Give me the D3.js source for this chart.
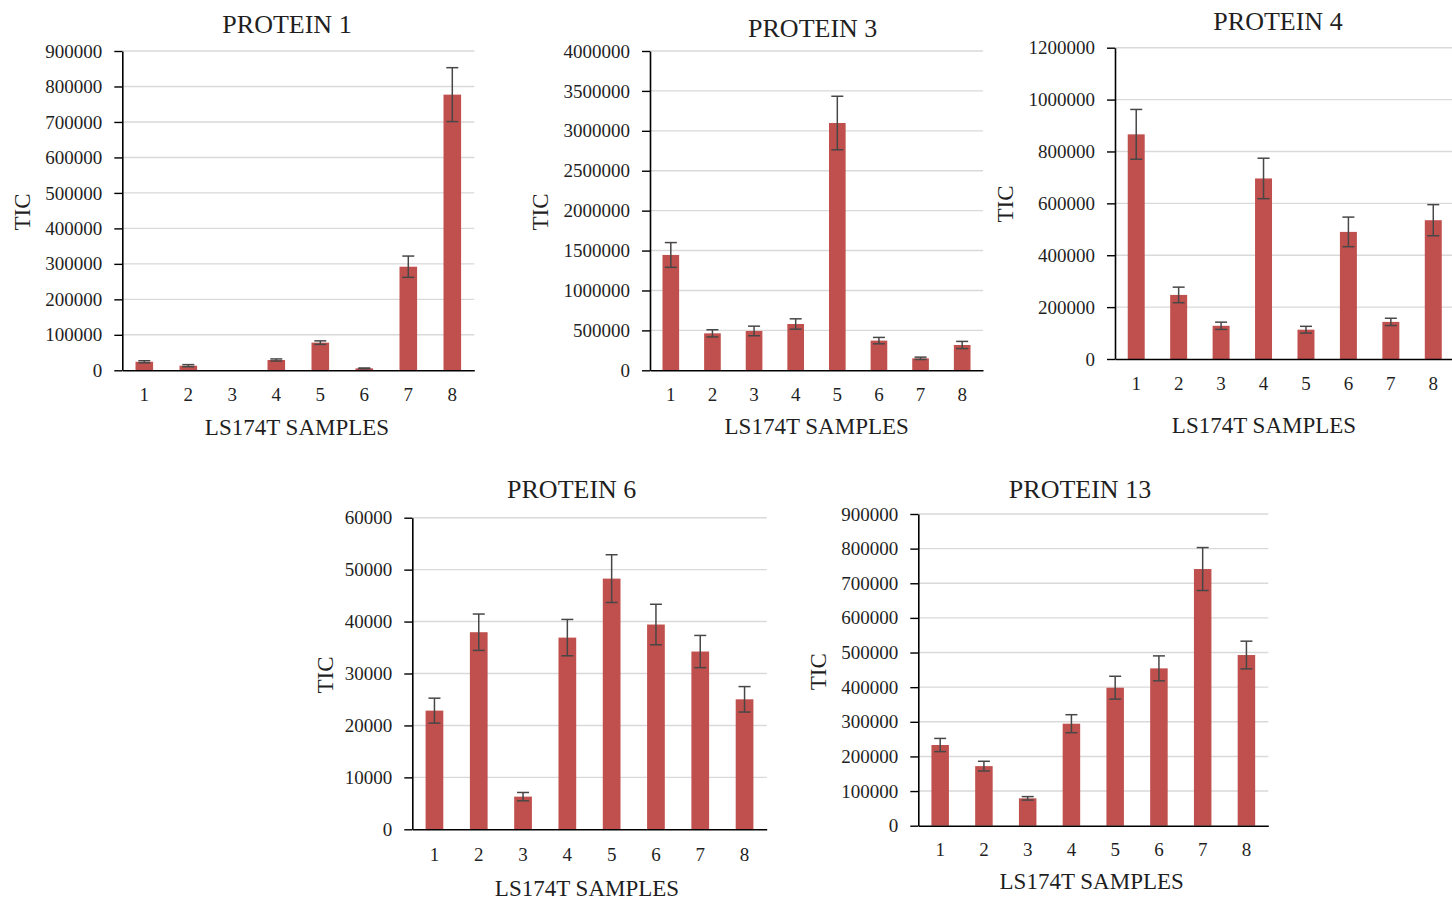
<!DOCTYPE html>
<html>
<head>
<meta charset="utf-8">
<script src="https://cdn.jsdelivr.net/npm/d3@7"></script>
<style>
  html, body { margin: 0; padding: 0; background: #ffffff; }
  svg { display: block; }
  text { font-family: "Liberation Serif", "Times New Roman", serif; fill: #1f1f1f; }
</style>
</head>
<body>
<svg id="chart" width="1452" height="900"></svg>
<script>
// Sample labels shared by every panel
const samples = ["1", "2", "3", "4", "5", "6", "7", "8"];

// Mean TIC and error per sample, one pair of arrays per protein
const protein1Mean = [24000, 13000, 0, 29000, 78000, 5500, 292000, 777000];
const protein1Err  = [3000, 3000, 0, 3000, 5000, 1000, 30000, 76000];
const protein1Ticks = [0, 100000, 200000, 300000, 400000, 500000, 600000, 700000, 800000, 900000];

const protein3Mean = [1445000, 463000, 493000, 580000, 3098000, 372000, 150000, 317000];
const protein3Err  = [155000, 45000, 60000, 65000, 335000, 40000, 15000, 45000];
const protein3Ticks = [0, 500000, 1000000, 1500000, 2000000, 2500000, 3000000, 3500000, 4000000];

const protein4Mean = [866000, 247000, 128000, 696000, 113000, 490000, 143000, 535000];
const protein4Err  = [96000, 30000, 14000, 78000, 13000, 57000, 14000, 60000];
const protein4Ticks = [0, 200000, 400000, 600000, 800000, 1000000, 1200000];

const protein6Mean = [22850, 37950, 6290, 36910, 48270, 39430, 34230, 25030];
const protein6Err  = [2400, 3500, 800, 3500, 4600, 3900, 3100, 2450];
const protein6Ticks = [0, 10000, 20000, 30000, 40000, 50000, 60000];

const protein13Mean = [233000, 172000, 79000, 294500, 398500, 454300, 741100, 492800];
const protein13Err  = [19000, 14000, 5000, 26000, 33000, 36000, 62000, 40000];
const protein13Ticks = [0, 100000, 200000, 300000, 400000, 500000, 600000, 700000, 800000, 900000];

const panels = [
  { title: "PROTEIN 1",  mean: protein1Mean,  err: protein1Err,  ticks: protein1Ticks,
    x0: 122.3, x1: 474.3, yTop: 51, yBot: 370.3, titleX: 287, titleY: 24, labelY: 395, axisTitleX: 297, axisTitleY: 427, ticX: 22, ticY: 212 },
  { title: "PROTEIN 3",  mean: protein3Mean,  err: protein3Err,  ticks: protein3Ticks,
    x0: 650, x1: 983, yTop: 51, yBot: 370.3, titleX: 812.7, titleY: 28, labelY: 395, axisTitleX: 816.7, axisTitleY: 426, ticX: 540, ticY: 212 },
  { title: "PROTEIN 4",  mean: protein4Mean,  err: protein4Err,  ticks: protein4Ticks,
    x0: 1115, x1: 1454.5, yTop: 47.7, yBot: 359, titleX: 1278, titleY: 21, labelY: 383, axisTitleX: 1264, axisTitleY: 425, ticX: 1005.7, ticY: 204 },
  { title: "PROTEIN 6",  mean: protein6Mean,  err: protein6Err,  ticks: protein6Ticks,
    x0: 412.3, x1: 766.7, yTop: 517.7, yBot: 829.3, titleX: 571.7, titleY: 489, labelY: 855, axisTitleX: 587, axisTitleY: 888, ticX: 325, ticY: 675 },
  { title: "PROTEIN 13", mean: protein13Mean, err: protein13Err, ticks: protein13Ticks,
    x0: 918.3, x1: 1268.3, yTop: 514, yBot: 825.7, titleX: 1080, titleY: 489, labelY: 850, axisTitleX: 1091.7, axisTitleY: 881.7, ticX: 818, ticY: 671.7 }
];

const svg = d3.select("#chart");
const barColor = "#c0504d";
const errColor = "#474747";
const gridColor = "#d9d9d9";
const textColor = "#1f1f1f";

panels.forEach(p => {
  const g = svg.append("g");
  const yMax = p.ticks[p.ticks.length - 1];
  const rows = samples.map((s, i) => ({ s, v: p.mean[i], e: p.err[i] }));

  const x = d3.scaleBand().domain(samples).range([p.x0, p.x1]).paddingInner(0.6).paddingOuter(0.3);
  const y = d3.scaleLinear().domain([0, yMax]).range([p.yBot, p.yTop]);

  // horizontal gridlines
  g.append("g").selectAll("line")
    .data(p.ticks.filter(t => t > 0))
    .join("line")
    .attr("x1", p.x0).attr("x2", p.x1)
    .attr("y1", d => y(d)).attr("y2", d => y(d))
    .attr("stroke", gridColor).attr("stroke-width", 1.4);

  // bars
  g.append("g").selectAll("rect")
    .data(rows.filter(d => d.v > 0))
    .join("rect")
    .attr("x", d => x(d.s))
    .attr("width", x.bandwidth())
    .attr("y", d => y(d.v))
    .attr("height", d => y(0) - y(d.v))
    .attr("fill", barColor);

  // error bars with caps
  const eb = g.append("g").selectAll("g")
    .data(rows.filter(d => d.e > 0))
    .join("g")
    .attr("stroke", errColor).attr("stroke-width", 1.5);
  const cx = d => x(d.s) + x.bandwidth() / 2;
  const hi = d => y(d.v + d.e);
  const lo = d => y(Math.max(0, d.v - d.e));
  eb.append("line")
    .attr("x1", cx).attr("x2", cx)
    .attr("y1", hi).attr("y2", lo);
  eb.append("line")
    .attr("x1", d => cx(d) - 6).attr("x2", d => cx(d) + 6)
    .attr("y1", hi).attr("y2", hi);
  eb.append("line")
    .attr("x1", d => cx(d) - 6).attr("x2", d => cx(d) + 6)
    .attr("y1", lo).attr("y2", lo);

  // y axis with outward tick marks
  const yAxis = d3.axisLeft(y).tickValues(p.ticks).tickSize(8).tickSizeOuter(0).tickPadding(12)
    .tickFormat(d3.format("d"));
  const ya = g.append("g").attr("transform", `translate(${p.x0},0)`).call(yAxis);
  ya.select(".domain").attr("stroke", "#000").attr("stroke-width", 1.6);
  ya.selectAll(".tick line").attr("stroke", "#000").attr("stroke-width", 1.4);
  ya.selectAll(".tick text").attr("font-size", 19).attr("font-family", "Liberation Serif").attr("fill", textColor);

  // x axis: baseline and sample labels
  const xAxis = d3.axisBottom(x).tickSize(0).tickPadding(0);
  const xa = g.append("g").attr("transform", `translate(0,${p.yBot})`).call(xAxis);
  xa.select(".domain").attr("stroke", "#000").attr("stroke-width", 1.6);
  xa.selectAll(".tick text")
    .attr("font-size", 19).attr("font-family", "Liberation Serif").attr("fill", textColor)
    .attr("dy", null).attr("y", p.labelY - p.yBot).attr("dominant-baseline", "central");

  // titles
  g.append("text").attr("x", p.titleX).attr("y", p.titleY)
    .attr("text-anchor", "middle").attr("dominant-baseline", "central")
    .attr("font-size", 26).text(p.title);
  g.append("text").attr("x", p.axisTitleX).attr("y", p.axisTitleY)
    .attr("text-anchor", "middle").attr("dominant-baseline", "central")
    .attr("font-size", 23).text("LS174T SAMPLES");
  g.append("text")
    .attr("transform", `translate(${p.ticX},${p.ticY}) rotate(-90)`)
    .attr("text-anchor", "middle").attr("dominant-baseline", "central")
    .attr("font-size", 23).text("TIC");
});
</script>
</body>
</html>
